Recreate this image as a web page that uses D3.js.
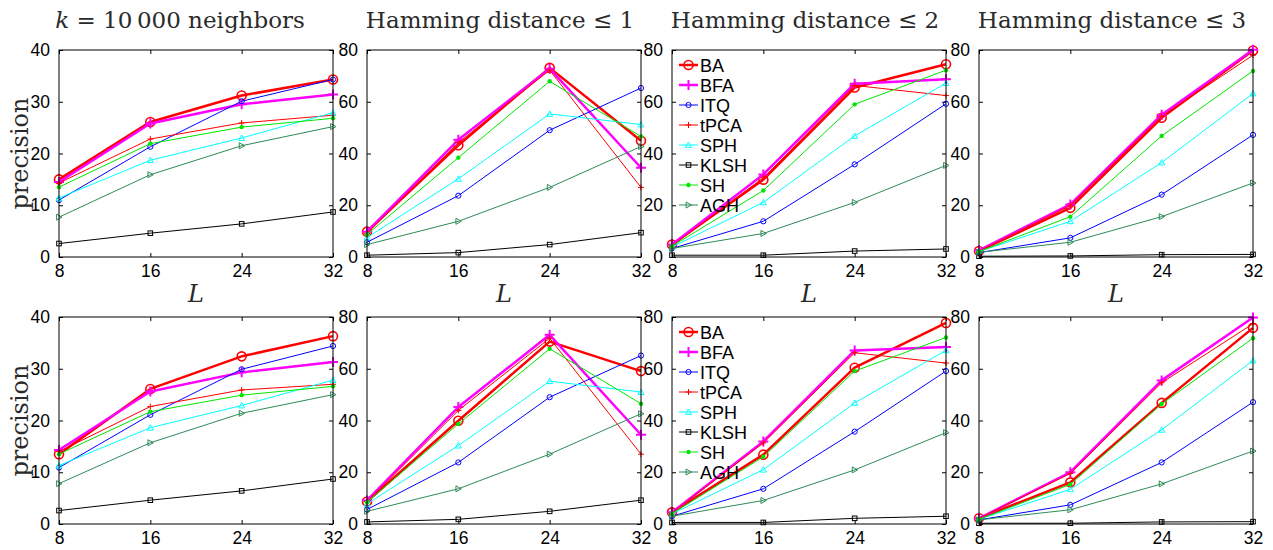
<!DOCTYPE html>
<html>
<head>
<meta charset="utf-8">
<script src="https://cdn.jsdelivr.net/npm/d3@7"></script>
<style>
  body { margin: 0; background: #fff; }
  svg { display: block; }
  .tick text { font-family: "Liberation Sans", Arial, sans-serif; font-size: 17.5px; fill: #000; }
  .domain { display: none; }
  .tick line { stroke: #000; stroke-width: 1; }
  .ttl { font-family: "DejaVu Serif", serif; font-size: 23px; fill: #2a2a2a; }
  .lbl { font-family: "DejaVu Serif", serif; font-size: 24px; fill: #2a2a2a; }
  .leg { font-family: "Liberation Sans", Arial, sans-serif; font-size: 18px; fill: #000; }
</style>
</head>
<body>
<div id="chart"></div>
<script>
var width = 1273
var height = 550

var codeLengths = [8, 16, 24, 32];
var methods = ["BA", "BFA", "ITQ", "tPCA", "SPH", "KLSH", "SH", "AGH"];
var titles = ["neighbors", "Hamming distance \u2264 1", "Hamming distance \u2264 2", "Hamming distance \u2264 3"];
var yMax = [40, 80, 80, 80];
var yTicksSmall = [0, 10, 20, 30, 40];
var yTicksLarge = [0, 20, 40, 60, 80];

// top row, k = 10 000 neighbors
var topKnn = [
    [15.0, 26.1, 31.2, 34.3],
    [14.5, 25.8, 29.5, 31.4],
    [11.0, 21.3, 30.1, 34.3],
    [14.3, 22.8, 25.9, 27.4],
    [11.4, 18.7, 23.0, 27.9],
    [2.6, 4.6, 6.4, 8.7],
    [13.5, 21.9, 25.1, 26.8],
    [7.7, 15.9, 21.5, 25.2]
];
var topHam1 = [
    [9.8, 43.2, 73.1, 44.9],
    [9.8, 45.3, 72.8, 34.5],
    [5.7, 23.7, 49.0, 65.3],
    [9.1, 44.2, 72.2, 26.9],
    [7.5, 30.2, 55.3, 51.2],
    [0.7, 1.7, 4.8, 9.4],
    [8.7, 38.4, 67.9, 46.6],
    [4.8, 13.8, 26.9, 42.7]
];
var topHam2 = [
    [4.8, 29.9, 65.5, 74.5],
    [4.8, 31.9, 67.0, 68.7],
    [3.3, 13.8, 35.8, 59.2],
    [4.3, 30.6, 66.3, 62.4],
    [3.9, 21.1, 46.8, 67.2],
    [0.7, 0.7, 2.3, 3.1],
    [4.2, 25.7, 59.0, 72.2],
    [3.3, 9.1, 21.1, 35.4]
];
var topHam3 = [
    [2.3, 19.0, 53.8, 79.8],
    [2.6, 20.3, 55.0, 80.1],
    [1.7, 7.4, 24.1, 47.2],
    [2.3, 19.9, 54.4, 78.0],
    [2.1, 13.8, 36.5, 63.2],
    [0.3, 0.4, 0.9, 1.0],
    [2.1, 15.6, 46.8, 71.9],
    [1.8, 5.7, 15.6, 28.6]
];

// bottom row
var botKnn = [
    [13.5, 26.1, 32.4, 36.3],
    [14.3, 25.6, 29.3, 31.3],
    [10.9, 21.1, 29.9, 34.4],
    [14.0, 22.7, 25.9, 27.0],
    [11.3, 18.6, 22.9, 27.8],
    [2.6, 4.6, 6.4, 8.7],
    [13.5, 21.7, 24.9, 26.6],
    [7.8, 15.7, 21.4, 25.0]
];
var botHam1 = [
    [8.7, 39.9, 70.5, 59.1],
    [9.1, 45.2, 73.1, 34.5],
    [5.6, 23.8, 49.0, 65.1],
    [8.7, 43.9, 71.8, 27.0],
    [7.8, 30.3, 55.2, 51.0],
    [0.8, 1.8, 4.9, 9.2],
    [8.4, 38.7, 67.7, 46.5],
    [4.9, 13.6, 27.0, 42.6]
];
var botHam2 = [
    [4.5, 26.8, 60.4, 77.7],
    [4.5, 31.9, 67.1, 68.4],
    [3.0, 13.6, 35.7, 59.1],
    [4.3, 31.3, 66.2, 62.2],
    [3.9, 21.0, 46.8, 67.1],
    [0.6, 0.6, 2.2, 3.0],
    [4.0, 26.0, 59.1, 72.1],
    [3.0, 9.1, 20.9, 35.3]
];
var botHam3 = [
    [2.2, 16.1, 46.8, 75.8],
    [2.2, 20.0, 55.5, 79.8],
    [1.6, 7.4, 23.8, 47.1],
    [2.2, 19.5, 54.6, 77.4],
    [1.8, 13.4, 36.4, 63.2],
    [0.3, 0.3, 0.8, 0.9],
    [1.8, 15.3, 46.4, 71.8],
    [1.6, 5.5, 15.5, 28.2]
];

var panels = [
    [topKnn, topHam1, topHam2, topHam3],
    [botKnn, botHam1, botHam2, botHam3]
];

// line styles per method, matlab-ish
var styles = {
    BA:   { color: "#ff0000", lw: 2.5, marker: "circle", size: 4.5, mlw: 1.6 },
    BFA:  { color: "#ff00ff", lw: 2.5, marker: "plus", size: 5, mlw: 2 },
    ITQ:  { color: "#0000ff", lw: 1, marker: "circle", size: 2.6, mlw: 1 },
    tPCA: { color: "#ff0000", lw: 1, marker: "plus", size: 3, mlw: 1 },
    SPH:  { color: "#00ffff", lw: 1, marker: "triup", size: 3, mlw: 1 },
    KLSH: { color: "#000000", lw: 1, marker: "square", size: 2.3, mlw: 1 },
    SH:   { color: "#00e600", lw: 1, marker: "dot", size: 2.2, mlw: 1 },
    AGH:  { color: "#2e8b57", lw: 1, marker: "triright", size: 3, mlw: 1 }
};

var colLeft = [59, 367, 672, 979];
var rowTop = [50, 317];
var pw = 274, ph = 207;

var svg = d3.select("#chart").append("svg")
    .attr("width", width)
    .attr("height", height);

function drawMarker(g, type, x, y, s, st) {
    if (type == "circle") {
        g.append("circle").attr("cx", x).attr("cy", y).attr("r", s)
            .attr("fill", "none").attr("stroke", st.color).attr("stroke-width", st.mlw);
    } else if (type == "plus") {
        g.append("path").attr("d", "M" + (x - s) + "," + y + "H" + (x + s) + "M" + x + "," + (y - s) + "V" + (y + s))
            .attr("stroke", st.color).attr("stroke-width", st.mlw);
    } else if (type == "square") {
        g.append("rect").attr("x", x - s).attr("y", y - s).attr("width", 2 * s).attr("height", 2 * s)
            .attr("fill", "none").attr("stroke", st.color).attr("stroke-width", st.mlw);
    } else if (type == "dot") {
        g.append("circle").attr("cx", x).attr("cy", y).attr("r", s).attr("fill", st.color);
    } else if (type == "triup") {
        g.append("path").attr("d", "M" + x + "," + (y - s) + "L" + (x + s) + "," + (y + s * 0.8) + "L" + (x - s) + "," + (y + s * 0.8) + "Z")
            .attr("fill", "none").attr("stroke", st.color).attr("stroke-width", st.mlw);
    } else if (type == "triright") {
        g.append("path").attr("d", "M" + (x + s) + "," + y + "L" + (x - s * 0.8) + "," + (y - s) + "L" + (x - s * 0.8) + "," + (y + s) + "Z")
            .attr("fill", "none").attr("stroke", st.color).attr("stroke-width", st.mlw);
    }
}

function drawPanel(row, col) {
    var data = panels[row][col];
    var g = svg.append("g")
        .attr("transform", "translate(" + colLeft[col] + "," + rowTop[row] + ")");

    var xScale = d3.scaleLinear().domain([8, 32]).range([0, pw]);
    var yScale = d3.scaleLinear().domain([0, yMax[col]]).range([ph, 0]);
    var yt = yMax[col] == 40 ? yTicksSmall : yTicksLarge;

    // inward ticks on all four sides
    g.append("g").attr("class", "y axis")
        .call(d3.axisLeft(yScale).tickValues(yt).tickSize(-4).tickPadding(9));
    g.append("g").attr("transform", "translate(" + pw + ",0)")
        .call(d3.axisRight(yScale).tickValues(yt).tickSize(-4).tickFormat(""));
    g.append("g").attr("class", "x axis").attr("transform", "translate(0," + ph + ")")
        .call(d3.axisBottom(xScale).tickValues(codeLengths).tickSize(-4).tickPadding(8));
    g.append("g")
        .call(d3.axisTop(xScale).tickValues(codeLengths).tickSize(-4).tickFormat(""));

    var line = d3.line()
        .x(function(_d, i) { return xScale(codeLengths[i]); })
        .y(function(d) { return yScale(d); });

    methods.forEach(function(m, k) {
        var st = styles[m];
        var sg = g.append("g");
        sg.append("path")
            .datum(data[k])
            .attr("fill", "none")
            .attr("stroke", st.color)
            .attr("stroke-width", st.lw)
            .attr("stroke-linejoin", "round")
            .attr("d", line);
        data[k].forEach(function(v, i) {
            drawMarker(sg, st.marker, xScale(codeLengths[i]), yScale(v), st.size, st);
        });
    });

    g.append("rect")
        .attr("width", pw).attr("height", ph)
        .attr("fill", "none").attr("stroke", "#000").attr("stroke-width", 1);

    // legend in third column
    if (col == 2) {
        var lg = g.append("g").attr("transform", "translate(7,15)");
        methods.forEach(function(m, k) {
            var st = styles[m];
            var yy = k * 20;
            lg.append("line").attr("x1", 0).attr("x2", 19).attr("y1", yy).attr("y2", yy)
                .attr("stroke", st.color).attr("stroke-width", st.lw);
            drawMarker(lg, st.marker, 9.5, yy, st.size, st);
            lg.append("text").attr("class", "leg").attr("x", 21).attr("y", yy + 6.5).text(m);
        });
    }

    // titles and axis labels
    if (row == 0) {
        var t = svg.append("text").attr("class", "ttl")
            .attr("x", colLeft[col] + pw / 2 - (col == 0 ? 16 : 4))
            .attr("y", 28)
            .attr("text-anchor", "middle");
        if (col == 0) {
            t.append("tspan").attr("font-style", "italic").text("k");
            t.append("tspan").text(" = 10\u2009000 " + titles[0]);
        } else {
            t.text(titles[col]);
        }
        svg.append("text").attr("class", "lbl")
            .attr("x", colLeft[col] + pw / 2)
            .attr("y", 302)
            .attr("text-anchor", "middle")
            .attr("font-style", "italic")
            .text("L");
    }
    if (col == 0) {
        svg.append("text").attr("class", "lbl")
            .attr("transform", "translate(28," + (rowTop[row] + ph / 2) + ") rotate(-90)")
            .attr("text-anchor", "middle")
            .text("precision");
    }
}

for (var r = 0; r < 2; r++) {
    for (var c = 0; c < 4; c++) {
        drawPanel(r, c);
    }
}
</script>
</body>
</html>
